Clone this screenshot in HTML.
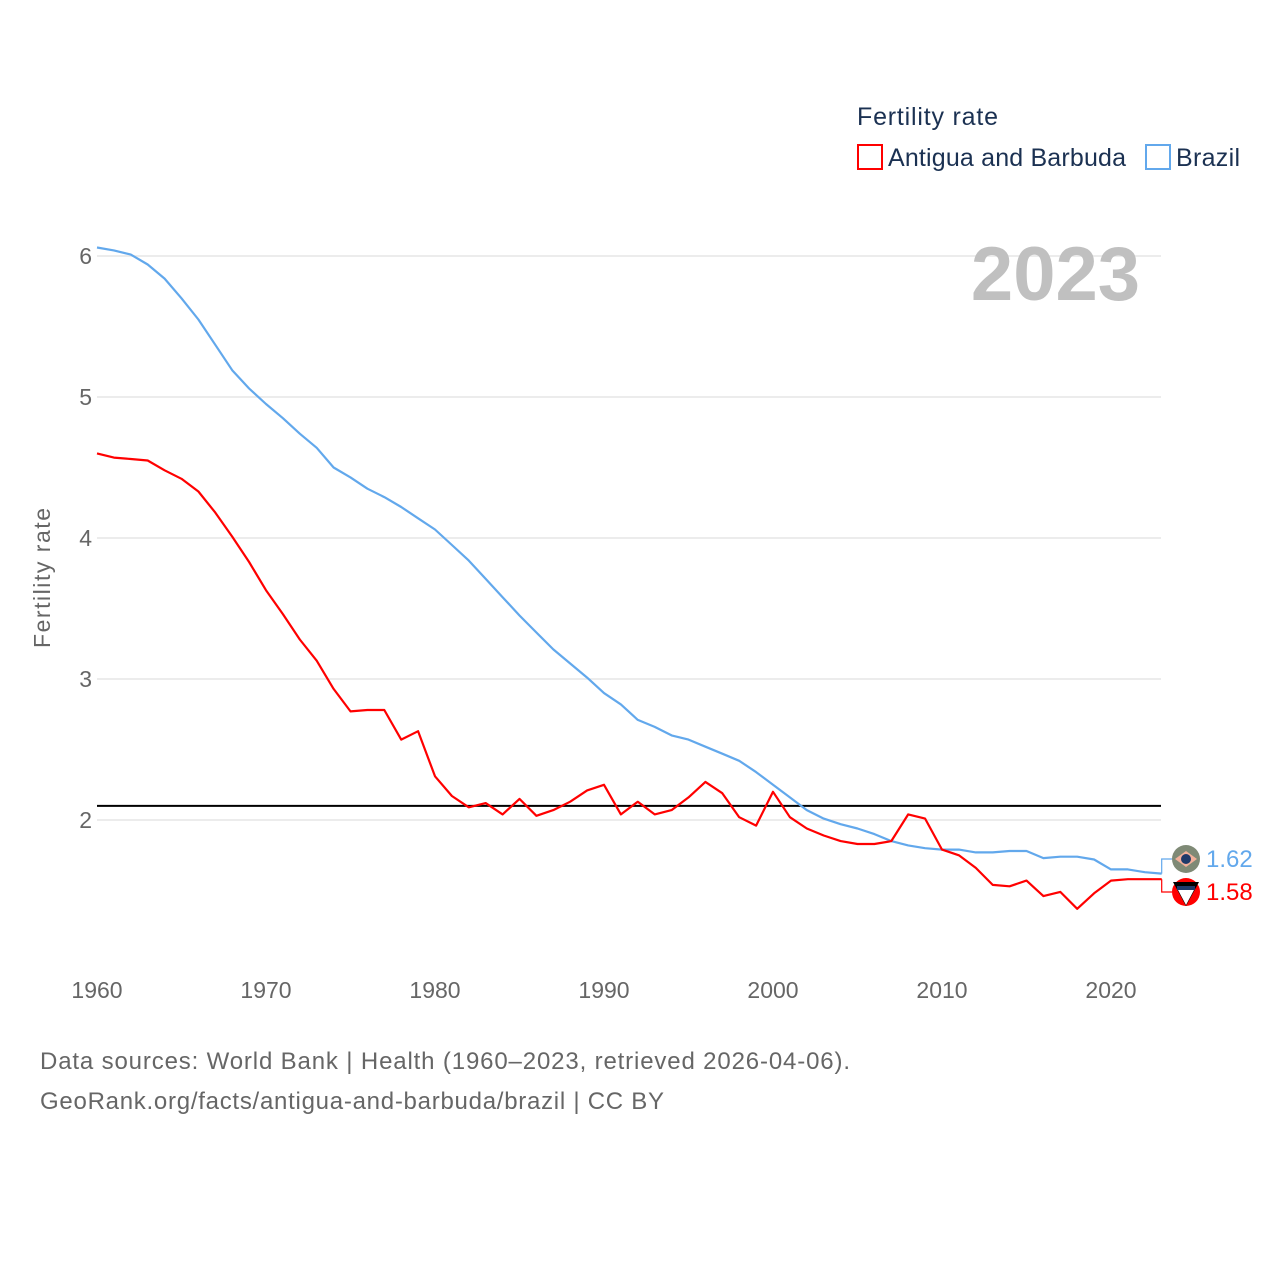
<!DOCTYPE html>
<html><head><meta charset="utf-8">
<style>
html,body{margin:0;padding:0;background:#fff;}
body{width:1280px;height:1280px;overflow:hidden;font-family:"Liberation Sans",sans-serif;}
</style></head>
<body>
<svg id="chart" width="1280" height="1280" xmlns="http://www.w3.org/2000/svg" font-family="Liberation Sans, sans-serif">
  <text x="857" y="125" font-size="25" fill="#1b3152" textLength="141">Fertility rate</text>
  <g>
    <rect x="858" y="145" width="24" height="24" fill="none" stroke="#ff0000" stroke-width="2"/>
    <text x="888" y="166" font-size="25" fill="#1b3152" textLength="238">Antigua and Barbuda</text>
  </g>
  <g>
    <rect x="1146" y="145" width="24" height="24" fill="none" stroke="#62a8ec" stroke-width="2"/>
    <text x="1176" y="166" font-size="25" fill="#1b3152" textLength="64">Brazil</text>
  </g>
  <g id="grid"></g>
  <text x="1140" y="300" text-anchor="end" font-size="76" font-weight="bold" fill="#c0c0c0">2023</text>
  <g id="yticks"></g>
  <g id="xticks"></g>
  <text transform="translate(50,578) rotate(-90)" text-anchor="middle" font-size="23" fill="#666" textLength="140">Fertility rate</text>
  <g id="series"></g>
  <g id="endlabels"></g>
  <text x="40" y="1069" font-size="24" fill="#666" textLength="810">Data sources: World Bank | Health (1960–2023, retrieved 2026-04-06).</text>
  <text x="40" y="1109" font-size="24" fill="#666" textLength="624">GeoRank.org/facts/antigua-and-barbuda/brazil | CC BY</text>
</svg>
<script>
const years = [];
for (let y = 1960; y <= 2023; y++) years.push(y);
const antigua = [4.60,4.57,4.56,4.55,4.48,4.42,4.33,4.18,4.01,3.83,3.63,3.46,3.28,3.13,2.93,2.77,2.78,2.78,2.57,2.63,2.31,2.17,2.09,2.12,2.04,2.15,2.03,2.07,2.13,2.21,2.25,2.04,2.13,2.04,2.07,2.16,2.27,2.19,2.02,1.96,2.20,2.02,1.94,1.89,1.85,1.83,1.83,1.85,2.04,2.01,1.79,1.75,1.66,1.54,1.53,1.57,1.46,1.49,1.37,1.48,1.57,1.58,1.58,1.58];
const brazil = [6.06,6.04,6.01,5.94,5.84,5.70,5.55,5.37,5.19,5.06,4.95,4.85,4.74,4.64,4.50,4.43,4.35,4.29,4.22,4.14,4.06,3.95,3.84,3.71,3.58,3.45,3.33,3.21,3.11,3.01,2.90,2.82,2.71,2.66,2.60,2.57,2.52,2.47,2.42,2.34,2.25,2.16,2.07,2.01,1.97,1.94,1.90,1.85,1.82,1.80,1.79,1.79,1.77,1.77,1.78,1.78,1.73,1.74,1.74,1.72,1.65,1.65,1.63,1.62];
const yTicks = [2,3,4,5,6];
const xTicks = [1960,1970,1980,1990,2000,2010,2020];
const replacement = 2.1;

const NS = "http://www.w3.org/2000/svg";
const X0 = 97, X1 = 1161;
const xs = y => X0 + (y - 1960) * (1111 - 97) / 60;
const ys = v => 820 - (v - 2) * 141;
function mk(tag, attrs, parent) {
  const e = document.createElementNS(NS, tag);
  for (const k in attrs) e.setAttribute(k, attrs[k]);
  parent.appendChild(e);
  return e;
}
const grid = document.getElementById('grid');
const yt = document.getElementById('yticks');
yTicks.forEach(t => {
  const l = mk('line', {x1: X0, x2: X1, y1: ys(t), y2: ys(t), stroke: '#e6e6e6', 'stroke-width': 1.5}, grid);
  
  
  const tx = mk('text', {x: 92, y: ys(t) + 8, 'text-anchor': 'end', 'font-size': 23, fill: '#666'}, yt);
  tx.textContent = t;
  
  
});
const xt = document.getElementById('xticks');
xTicks.forEach(t => {
  const tx = mk('text', {x: xs(t), y: 998, 'text-anchor': 'middle', 'font-size': 23, fill: '#666'}, xt);
  tx.textContent = t;
  
  
});
const ser = document.getElementById('series');
const ref = mk('line', {x1: X0, x2: X1, y1: ys(replacement), y2: ys(replacement), stroke: '#000', 'stroke-width': 2}, ser);


function line(vals, color, name) {
  const d = vals.map((v, i) => (i ? 'L' : 'M') + xs(years[i]).toFixed(1) + ',' + ys(v).toFixed(1)).join(' ');
  const p = mk('path', {d: d, fill: 'none', stroke: color, 'stroke-width': 2.2, 'stroke-linejoin': 'round'}, ser);
  
  
}
line(brazil, '#62a8ec', 'line-brazil');
line(antigua, '#ff0000', 'line-antigua');

const el = document.getElementById('endlabels');
const lastB = brazil[brazil.length - 1], lastA = antigua[antigua.length - 1];
const xe = xs(years[years.length - 1]);
const bc = 859, ac = 892;
const bl = mk('path', {d: `M${xe},${ys(lastB)} V${bc} H1172`, fill: 'none', stroke: '#62a8ec', 'stroke-width': 1.2}, el);


const al = mk('path', {d: `M${xe},${ys(lastA)} V${ac} H1172`, fill: 'none', stroke: '#ff0000', 'stroke-width': 1.2}, el);


const bf = mk('g', {}, el);


mk('circle', {cx: 1186, cy: bc, r: 14, fill: '#7f8a76'}, bf);
mk('polygon', {points: `1175,${bc} 1186,${bc-8} 1197,${bc} 1186,${bc+8}`, fill: '#f2b09a'}, bf);
mk('circle', {cx: 1186, cy: bc, r: 5, fill: '#1e3a6a'}, bf);
const af = mk('g', {}, el);


mk('circle', {cx: 1186, cy: ac, r: 14, fill: '#ff0000'}, af);
mk('polygon', {points: `1173,${ac-10} 1199,${ac-10} 1186,${ac+14}`, fill: '#000'}, af);
mk('polygon', {points: `1178,${ac-2} 1194,${ac-2} 1186,${ac+13}`, fill: '#fff'}, af);
mk('rect', {x: 1177, y: ac-6, width: 18, height: 4, fill: '#1e3a6a'}, af);
const bt = mk('text', {x: 1206, y: bc + 8, 'font-size': 24, fill: '#62a8ec'}, el);
bt.textContent = lastB.toFixed(2);


const at = mk('text', {x: 1206, y: ac + 8, 'font-size': 24, fill: '#ff0000'}, el);
at.textContent = lastA.toFixed(2);


</script>
</body></html>
